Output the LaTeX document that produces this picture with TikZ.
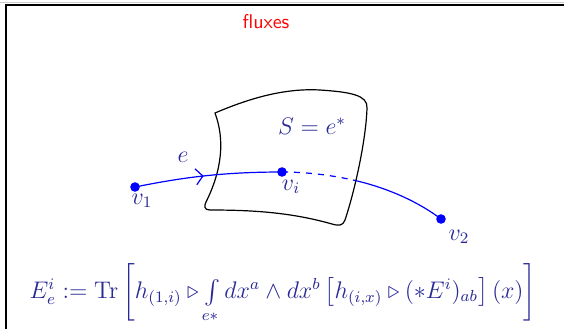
\documentclass[tikz,border=0pt]{standalone}
\usepackage{amsmath,amssymb}
\usetikzlibrary{decorations.markings,arrows.meta}
\definecolor{txtblue}{RGB}{40,40,150}
\begin{document}
\begin{tikzpicture}[x=0.5pt,y=-0.5pt,
  vdot/.style={circle,fill=blue,inner sep=0pt,minimum size=4.8pt},
  lbl/.style={text=txtblue,inner sep=1pt,font=\fontsize{12}{14}\selectfont},
  edgeline/.style={blue,line width=0.6pt},
  surf/.style={black,line width=0.6pt}]
\useasboundingbox (0,0) rectangle (564,329);
% frame
\draw[gray!40,line width=0.8pt] (0,2.5) -- (564,2.5);
\draw[black,line width=0.8pt] (6,329) -- (6,5) -- (564,5);
% title
\node[red,font=\sffamily] (title) at (266,22) {fluxes};
% surface
\draw[surf] (215,113) .. controls (250,98) and (285,88) .. (320,90)
  .. controls (350,92) and (368,95) .. (367,108)
  .. controls (366,140) and (355,190) .. (345,220)
  .. controls (343,226) and (338,226) .. (332,224)
  .. controls (290,212) and (250,210) .. (210,210)
  .. controls (204,210) and (204,206) .. (206,202)
  .. controls (222,170) and (225,140) .. (215,113) -- cycle;
\node[lbl] (S) at (312,126) {$S=e^*$};
% vertices
\node[vdot] (v1) at (135,187) {};
\node[vdot] (vi) at (282,172) {};
\node[vdot] (v2) at (441,219) {};
\coordinate (exit) at (353,180);
% edge
\draw[edgeline,postaction={decorate},decoration={markings,
  mark=at position 0.47 with {\arrow{Straight Barb[length=3.5pt,width=8pt,line width=0.6pt]}}}]
  (v1.center) .. controls (180,178) and (220,172) .. (vi.center);
\draw[edgeline,dashed] (vi.center) .. controls (310,172) and (335,176) .. (exit);
\draw[edgeline] (exit) .. controls (389,188) and (420,203) .. (v2.center);
% labels
\node[lbl] (le) at (183,157) {$e$};
\node[lbl] (l1) at (142,201) {$v_1$};
\node[lbl] (li) at (291,187) {$v_i$};
\node[lbl] (l2) at (459,237) {$v_2$};
% formula
\node[lbl] (formula) at (283,293) {$E_e^i := \mathrm{Tr}\left[ h_{(1,i)} \triangleright \int\limits_{e*} dx^a \wedge dx^b \left[ h_{(i,x)} \triangleright (*E^i)_{ab}\right](x)\right]$};
\end{tikzpicture}
\end{document}
